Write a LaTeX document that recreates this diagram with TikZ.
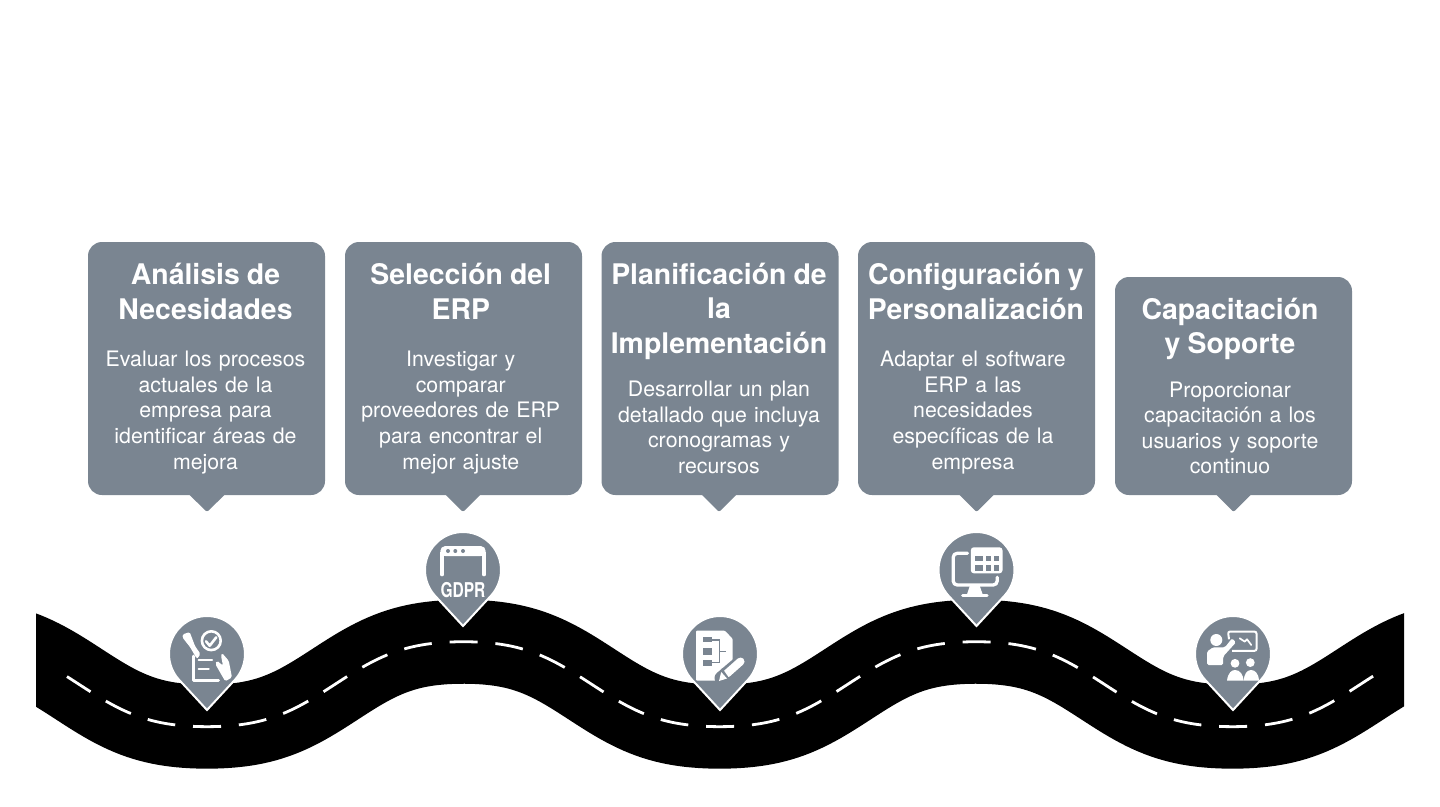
\documentclass[tikz,border=0pt]{standalone}
\usepackage{fontspec}
\setmainfont{TeX Gyre Heros}
\usepackage{xcolor}
\usetikzlibrary{calc,positioning}
\definecolor{slate}{RGB}{122,133,145}

\begin{document}
\begin{tikzpicture}[
  x=1pt,y=-1pt,
  card/.style={
    fill=slate,
    text=white,
    rounded corners=14pt,
    align=center,
    inner sep=0pt,
    outer sep=0pt,
    text width=237pt,
    minimum height=253pt,
    font=\fontsize{21.3}{25.6}\selectfont,
    execute at begin node={\leftskip=0pt plus 1fil\rightskip=#1 plus 1fil\parfillskip=0pt\relax}
  },
  card/.default=7pt,
  lowcard/.style={card,minimum height=218pt},
  tail/.style={fill=slate,rounded corners=2pt},
  road/.style={draw=black,line width=84pt},
  lane/.style={draw=white,line width=2.8pt,dash pattern=on 28pt off 17.9pt},
  pinhead/.style={circle,minimum size=76pt,inner sep=0pt,outer sep=0pt},
  pinbody/.style={fill=slate,draw=white,line width=2pt,line join=miter},
  glyph/.style={fill=white},
  stroke/.style={draw=white,line width=3pt,line cap=round,line join=round},
  cutout/.style={fill=slate}
]
\useasboundingbox (0,0) rectangle (1440,806);

% Road
\begin{scope}
  \clip (36,500) rectangle (1404,806);
  \draw[road] plot[domain=0:1440,samples=289] (\x,{684.2+45.1*cos(0.70216*(\x-207))-2.63*cos(2.10648*(\x-207))});
\end{scope}
\draw[lane] plot[domain=67:1376,samples=263] (\x,{684.2+45.1*cos(0.70216*(\x-207))-2.63*cos(2.10648*(\x-207))});

% Step cards
\node[card=2pt] (analisis) at (206.5,368.5)
  {{\bfseries\fontsize{28.4}{34.3}\selectfont An\'alisis de\\Necesidades\\[22pt]}
   Evaluar los procesos\\actuales de la\\empresa para\\identificar \'areas de\\mejora};
\node[card=5.5pt] (seleccion) at (463.5,368.5)
  {{\bfseries\fontsize{28.4}{34.3}\selectfont Selecci\'on del\\ERP\\[22pt]}
   Investigar y\\comparar\\proveedores de ERP\\para encontrar el\\mejor ajuste};
\node[card=2pt] (planificacion) at (720,368.5)
  {{\bfseries\fontsize{28.4}{34.3}\selectfont Planificaci\'on de\\la\\Implementaci\'on\\[18pt]}
   Desarrollar un plan\\detallado que incluya\\cronogramas y\\recursos};
\node[card] (configuracion) at (976.5,368.5)
  {{\bfseries\fontsize{28.4}{34.3}\selectfont \hspace*{6pt}Configuraci\'on y\\\hspace*{6pt}Personalizaci\'on\\[22pt]}
   Adaptar el software\\ERP a las\\necesidades\\espec\'ificas de la\\empresa};
\node[lowcard] (capacitacion) at (1233.5,386)
  {{\bfseries\fontsize{28.4}{34.3}\selectfont Capacitaci\'on\\y Soporte\\[18pt]}
   Proporcionar\\capacitaci\'on a los\\usuarios y soporte\\continuo};

% Card tails
\fill[tail] ([shift={(-20,-3)}]analisis.south) -- ([shift={(0.5,17)}]analisis.south) -- ([shift={(21,-3)}]analisis.south) -- cycle;
\fill[tail] ([shift={(-20.5,-3)}]seleccion.south) -- ([shift={(-0.5,17)}]seleccion.south) -- ([shift={(19.5,-3)}]seleccion.south) -- cycle;
\fill[tail] ([shift={(-21,-3)}]planificacion.south) -- ([shift={(-1,17)}]planificacion.south) -- ([shift={(19,-3)}]planificacion.south) -- cycle;
\fill[tail] ([shift={(-20,-3)}]configuracion.south) -- ([shift={(0,17)}]configuracion.south) -- ([shift={(20,-3)}]configuracion.south) -- cycle;
\fill[tail] ([shift={(-20,-3)}]capacitacion.south) -- ([shift={(0,17)}]capacitacion.south) -- ([shift={(20,-3)}]capacitacion.south) -- cycle;

% Map pins
\node[pinhead] (pinanalisis) at (207,654) {};
\coordinate (tipanalisis) at (207,710);
\draw[pinbody] (tipanalisis) -- (pinanalisis.-42) arc[start angle=-42,end angle=222,radius=38pt] -- cycle;
\node[pinhead] (pinseleccion) at (463,570) {};
\coordinate (tipseleccion) at (463,626);
\draw[pinbody] (tipseleccion) -- (pinseleccion.-42) arc[start angle=-42,end angle=222,radius=38pt] -- cycle;
\node[pinhead] (pinplanificacion) at (720,654) {};
\coordinate (tipplanificacion) at (720,710);
\draw[pinbody] (tipplanificacion) -- (pinplanificacion.-42) arc[start angle=-42,end angle=222,radius=38pt] -- cycle;
\node[pinhead] (pinconfiguracion) at (976.5,570) {};
\coordinate (tipconfiguracion) at (976.5,626);
\draw[pinbody] (tipconfiguracion) -- (pinconfiguracion.-42) arc[start angle=-42,end angle=222,radius=38pt] -- cycle;
\node[pinhead] (pincapacitacion) at (1233,654) {};
\coordinate (tipcapacitacion) at (1233,710);
\draw[pinbody] (tipcapacitacion) -- (pincapacitacion.-42) arc[start angle=-42,end angle=222,radius=38pt] -- cycle;

% Icon: checklist held by two hands
\begin{scope}[shift={(207,654)}]
  \draw[stroke,line width=2.6pt] (4.3,-13.3) circle[radius=9.4];
  \draw[stroke,line width=2.6pt] (-1,-12.7) -- (2.7,-8.3) -- (9.3,-16.7);
  \draw[stroke] (-14,2) -- (-14,26.5) -- (11.5,26.5);
  \draw[stroke,line width=2.2pt] (-8.3,6) -- (5,6);
  \draw[stroke,line width=2.2pt] (-8.3,15) -- (1.7,15);
  \fill[glyph,rounded corners=1.5pt] (-24.5,-19.5) -- (-17.3,-22) -- (-12,-8) -- (-6.5,0) -- (-10,5) -- (-17,-7) -- (-24.5,-16.5) -- cycle;
  \fill[glyph,rounded corners=1.5pt] (15,-1) -- (21.7,6.7) -- (25,23.3) -- (18.3,27.3) -- (15,21.7) -- (8.3,10) -- (10,6.7) -- (16,11.7) -- (14,1.7) -- cycle;
\end{scope}

% Icon: browser window with label
\begin{scope}[shift={(463,570)}]
  \fill[glyph,rounded corners=5pt] (-22.7,-24) -- (22.7,-24) -- (22.7,-14) -- (-22.7,-14) -- cycle;
  \fill[glyph] (-22.7,-18) rectangle (22.7,-14);
  \draw[stroke,line width=3.6pt] (-21,-15) -- (-21,4.5);
  \draw[stroke,line width=3.6pt] (21,-15) -- (21,4.5);
  \fill[cutout] (-15,-19) circle[radius=2];
  \fill[cutout] (-7.7,-19) circle[radius=2];
  \fill[cutout] (0,-19) circle[radius=2];
  \node[text=white,inner sep=0pt,transform shape,xscale=.76,font=\bfseries\fontsize{20.4}{20.4}\selectfont] (gdprtag) at (0,20) {GDPR};
\end{scope}

% Icon: structured document and pencil
\begin{scope}[shift={(720,654)}]
  \fill[glyph,rounded corners=1pt] (-24,-23.3) -- (5,-23.3) -- (12.7,-15) -- (12.7,26.7) -- (-24,26.7) -- cycle;
  \fill[cutout] (-17.3,-16.7) rectangle (-8.3,-11.7);
  \fill[cutout] (-17.3,-5.7) rectangle (-8.3,.7);
  \fill[cutout] (-17.3,5.7) rectangle (-8.3,11.7);
  \draw[draw=slate,line width=1.5pt] (-8.3,-14) -- (-0.7,-14) -- (-0.7,8.7) -- (-8.3,8.7);
  \draw[draw=slate,line width=1.5pt] (-0.7,-2.7) -- (6,-2.7);
  \fill[cutout] (0,30) -- (10,20) -- (30,10) -- (26,25) -- (20,30) -- cycle;
  \draw[draw=slate,line width=13pt,line cap=round] (1,24) -- (21,7);
  \draw[draw=white,line width=8pt,line cap=round] (7,19.5) -- (20.5,7.5);
  \fill[cutout] (2,14) -- (9,24) -- (7,29) -- (-3,29) -- cycle;
  \fill[glyph] (-1,27) -- (1.2,18) -- (7,24.5) -- cycle;
\end{scope}

% Icon: monitor with table
\begin{scope}[shift={(976.5,570)}]
  \draw[stroke,line width=3.3pt,rounded corners=4pt] (-9,-16.7) -- (-23.3,-16.7) -- (-23.3,15) -- (20.7,15) -- (20.7,7.3);
  \fill[glyph,rounded corners=3pt] (-5.7,-22.7) rectangle (26,3.3);
  \fill[cutout] (-1.7,-14.3) rectangle (6,-9);
  \fill[cutout] (9.3,-14.3) rectangle (14.3,-9);
  \fill[cutout] (17.7,-14.3) rectangle (22.7,-9);
  \fill[cutout] (-1.7,-5) rectangle (6,1);
  \fill[cutout] (9.3,-5) rectangle (14.3,1);
  \fill[cutout] (17.7,-5) rectangle (22.7,1);
  \fill[glyph] (-6.7,16) -- (3.3,16) -- (6,24) -- (-9.4,24) -- cycle;
  \draw[stroke,line width=2.6pt] (-14,25.5) -- (10.7,25.5);
\end{scope}

% Icon: trainer at a board and audience
\begin{scope}[shift={(1233,653.3)}]
  \fill[glyph] (-16.7,-13.3) circle[radius=6];
  \fill[glyph,rounded corners=1.5pt] (-26,11.7) -- (-26,-1.7) -- (-20,-6) -- (-8,-6) -- (-1,-15) -- (3,-11) -- (-9.7,3) -- (-10,11.7) -- cycle;
  \draw[draw=white,line width=2pt,rounded corners=2pt] (-4,-14) -- (-5,-21.7) -- (23.5,-21.7) -- (23.5,-2.5) -- (-1,-2.5);
  \draw[stroke,line width=1.7pt] (6.7,-15) -- (11.7,-11.7) -- (14,-14) -- (18.3,-8.3);
  \fill[glyph] (2,10) circle[radius=4.4];
  \fill[glyph] (17.3,9.3) circle[radius=4.4];
  \fill[glyph] (-6,27.3) .. controls (-5,19) and (-1,16.7) .. (2,16.7) .. controls (7,16.7) and (10,21) .. (10.7,27.3) -- cycle;
  \fill[glyph] (10.7,27.3) .. controls (11,21) and (14,16.7) .. (18,16.7) .. controls (22,16.7) and (25.5,20) .. (26,27.3) -- cycle;
\end{scope}
\end{tikzpicture}
\end{document}
